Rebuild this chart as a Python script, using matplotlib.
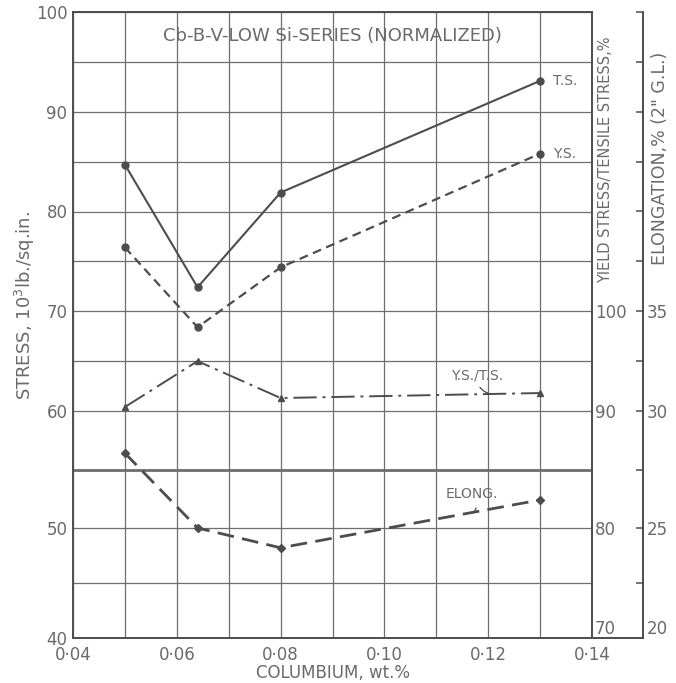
import matplotlib
matplotlib.use("Agg")
import matplotlib.pyplot as plt
import numpy as np
from matplotlib.ticker import FixedLocator, FixedFormatter

# data
cb = [0.05, 0.064, 0.08, 0.13]              # columbium, wt.%
ts = [84.7, 72.4, 81.9, 93.1]                # tensile stress, 10^3 lb/sq.in
ys = [76.4, 68.4, 74.4, 85.8]                # yield stress
ratio = [90.4, 95.0, 91.3, 91.8]             # Y.S./T.S., %
elong = [28.2, 25.0, 24.1, 26.2]             # elongation, % (2" G.L.)

xticks = [0.04, 0.06, 0.08, 0.10, 0.12, 0.14]
xticklabels = ["0·04", "0·06", "0·08", "0·10", "0·12", "0·14"]

ink = "#4d4d4d"
txt = "#6a6a6a"
grid_c = "#6e6e6e"

# the scanned sheet is slightly stretched at the bottom, mimic it
knots_s = [40, 50, 60, 100]
knots_p = [0, 110, 227, 626]


def fwd(s):
    return np.interp(s, knots_s, knots_p)


def inv(p):
    return np.interp(p, knots_p, knots_s)


fig = plt.figure(figsize=(6.76, 6.83), dpi=100)
ax = fig.add_axes([73 / 676, 45 / 683, 519 / 676, 626 / 683])

ax.set_yscale("function", functions=(fwd, inv))
ax.set_xlim(0.04, 0.14)
ax.set_ylim(40, 100)

ax.xaxis.set_major_locator(FixedLocator(np.arange(0.04, 0.1401, 0.01)))
ax.xaxis.set_major_formatter(FixedFormatter(
    [xticklabels[i // 2] if i % 2 == 0 else "" for i in range(11)]))
ax.yaxis.set_major_locator(FixedLocator(np.arange(40, 100.1, 5)))
ax.yaxis.set_major_formatter(FixedFormatter(
    [str(v) if v % 10 == 0 else "" for v in range(40, 101, 5)]))
ax.yaxis.set_minor_locator(FixedLocator([]))
ax.tick_params(axis="both", length=0, labelsize=12, colors=txt)
ax.tick_params(axis="x", pad=6)
ax.tick_params(axis="y", pad=4)
ax.grid(True, color=grid_c, lw=0.9)
ax.axhline(55, color=grid_c, lw=2.0)
for s in ax.spines.values():
    s.set_color(ink)
    s.set_linewidth(1.4)

ax.plot(cb, ts, color=ink, lw=1.5, ls="-", marker="o", ms=5, zorder=5)
ax.plot(cb, ys, color=ink, lw=1.6, ls=(0, (4, 2.5)), marker="o", ms=5, zorder=5)

ax.annotate("T.S.", (cb[-1], ts[-1]), xytext=(9, 0), textcoords="offset points",
            va="center", ha="left", fontsize=10, color=txt)
ax.annotate("Y.S.", (cb[-1], ys[-1]), xytext=(9, 0), textcoords="offset points",
            va="center", ha="left", fontsize=10, color=txt)

ax.text(0.5, 0.962, "Cb-B-V-LOW Si-SERIES (NORMALIZED)", transform=ax.transAxes,
        ha="center", va="center", fontsize=13, color=txt)
ax.set_xlabel("COLUMBIUM, wt.%", fontsize=12, color=txt, labelpad=0)

# yield / tensile ratio axis
ax_r = ax.twinx()
ax_r.set_yscale("function", functions=(lambda r: fwd(r - 30), lambda p: inv(p) + 30))
ax_r.set_ylim(70, 130)
ax_r.yaxis.set_major_locator(FixedLocator([70, 80, 90, 100]))
ax_r.yaxis.set_major_formatter(FixedFormatter(["70", "80", "90", "100"]))
ax_r.yaxis.set_minor_locator(FixedLocator([]))
ax_r.tick_params(axis="y", length=0, labelsize=12, colors=txt, pad=2)
for s in ax_r.spines.values():
    s.set_visible(False)
ax_r.plot(cb, ratio, color=ink, lw=1.4, ls=(0, (12, 3, 1.5, 3)), marker="^", ms=5,
          zorder=5)
ax_r.annotate("Y.S./T.S.", xy=(0.1205, ratio[-1] - 0.1), xytext=(0.1178, 93.6),
              ha="center", va="center", fontsize=10, color=txt,
              arrowprops=dict(arrowstyle="-", color=ink, lw=0.9,
                              connectionstyle="arc3,rad=0.4",
                              shrinkA=2, shrinkB=0))

# elongation axis, its spine sits 51 px right of the plot
off_pt = 51 * 72 / 100
ax_e = ax.twinx()
ax_e.set_yscale("function", functions=(lambda e: fwd(2 * e), lambda p: inv(p) / 2))
ax_e.set_ylim(20, 50)
ax_e.spines["right"].set_position(("outward", off_pt))
for k in ["left", "top", "bottom"]:
    ax_e.spines[k].set_visible(False)
ax_e.spines["right"].set_color(ink)
ax_e.spines["right"].set_linewidth(1.4)
ax_e.yaxis.set_major_locator(FixedLocator(np.arange(20, 50.1, 2.5)))
ax_e.yaxis.set_major_formatter(FixedFormatter(
    [("%d" % v) if v in (20, 25, 30, 35) else "" for v in np.arange(20, 50.1, 2.5)]))
ax_e.yaxis.set_minor_locator(FixedLocator([]))
ax_e.tick_params(axis="y", direction="in", length=5, width=1.1, color=ink,
                 labelsize=12, labelcolor=txt, pad=3)
ax_e.plot(cb, elong, color=ink, lw=2.0, ls=(0, (6, 3)), marker="D", ms=4, zorder=5)
ax_e.annotate("ELONG.", xy=(0.1172, 25.65), xytext=(0.1169, 26.45),
              ha="center", va="center", fontsize=10, color=txt,
              arrowprops=dict(arrowstyle="-", color=ink, lw=0.9,
                              connectionstyle="arc3,rad=-0.4",
                              shrinkA=3, shrinkB=0))

# the lowest right-hand labels sit just above the bottom line
fig.canvas.draw()
ax_r.get_yticklabels()[0].set_verticalalignment("bottom")
ax_e.get_yticklabels()[0].set_verticalalignment("bottom")

# bottom line continues to the elongation spine
ax.plot([1, 1 + 51 / 519], [0, 0], transform=ax.transAxes, color=ink, lw=1.4,
        clip_on=False)

fig.text(25 / 676, 1 - 305 / 683, "STRESS, 10$^3$lb./sq.in.", rotation=90,
         ha="center", va="center", fontsize=13, color=txt)
fig.text(606 / 676, 1 - 160 / 683, "YIELD STRESS/TENSILE STRESS,%", rotation=90,
         ha="center", va="center", fontsize=10.5, color=txt)
fig.text(660 / 676, 1 - 158 / 683, "ELONGATION,% (2\" G.L.)", rotation=90,
         ha="center", va="center", fontsize=12.5, color=txt)

fig.savefig("out.png", dpi=100)
